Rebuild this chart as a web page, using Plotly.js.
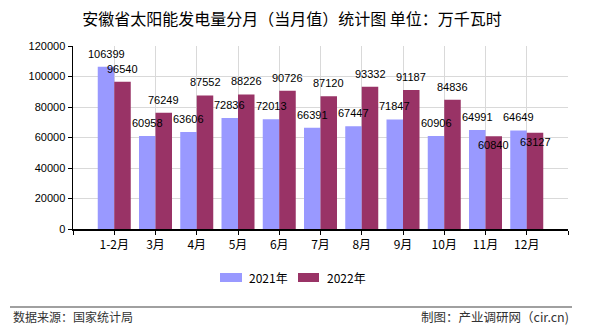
<!DOCTYPE html>
<html>
<head>
<meta charset="utf-8">
<script src="https://cdn.plot.ly/plotly-3.0.1.min.js"></script>
<style>html,body{margin:0;padding:0;background:#fff}#chart{width:590px;height:330px}</style>
</head>
<body>
<div id="chart"></div>
<script>
const categories = ["1-2月","3月","4月","5月","6月","7月","8月","9月","10月","11月","12月"];
const series2021 = [106399,60958,63606,72836,72013,66391,67447,71847,60906,64991,64649];
const series2022 = [96540,76249,87552,88226,90726,87120,93332,91187,84836,60840,63127];
const seriesNames = ["2021年","2022年"];
const seriesColors = ["#9999ff","#993366"];
const yTicks = [0,20000,40000,60000,80000,100000,120000];

const W = 590, H = 330, M = {l:73, r:22, t:46, b:101};
const plotW = W - M.l - M.r, plotH = H - M.t - M.b;
const px2x = p => (p - M.l) / plotW;
const px2y = p => (H - M.b - p) / plotH;

const xPos = categories.map((c,i)=>i+1);
const tickVals = [0].concat(xPos, [categories.length+1]);
const tickText = [""].concat(categories, [""]);
const numFont = {family:"Liberation Sans, Arial, sans-serif", size:11, color:"#000"};
const cjk = "Noto Sans CJK SC, sans-serif";
const yMax = 120000;

const allSeries = [series2021, series2022];
const traces = allSeries.map((s,k)=>({type:"bar", name:seriesNames[k], x:xPos, y:s,
  marker:{color:seriesColors[k]}, hoverinfo:"none", showlegend:false}));

// data labels; second-series label is pushed into its bar when it would collide with the first
const barHalf = 0.2;
const pxPerUnit = plotH / yMax;
const labelAnns = [];
allSeries.forEach((s, k) => {
  s.forEach((v, i) => {
    let shift = 13;
    if (k === 1 && Math.abs(series2021[i] - v) * pxPerUnit < 14) shift = -9;
    labelAnns.push({xref:"x", yref:"y", x:xPos[i] + (k === 0 ? -barHalf : barHalf), y:v,
      text:String(v), showarrow:false, xanchor:"center", yanchor:"middle", yshift:shift, font:numFont});
  });
});

// custom legend (wide swatches like the reference)
const legendItems = [{x0:220, x1:242, tx:247}, {x0:298, x1:319, tx:325}];
const legendShapes = legendItems.map((it,k)=>({type:"rect", xref:"paper", yref:"paper",
  x0:px2x(it.x0), x1:px2x(it.x1), y0:px2y(282), y1:px2y(273), fillcolor:seriesColors[k], line:{width:0}}));
const legendAnns = legendItems.map((it,k)=>({xref:"paper", yref:"paper", x:px2x(it.tx), y:px2y(277.5),
  xanchor:"left", yanchor:"middle", showarrow:false, text:seriesNames[k], font:{family:cjk, size:12, color:"#000"}}));

const layout = {
  width:W, height:H,
  margin:M,
  paper_bgcolor:"#fff", plot_bgcolor:"#fff",
  barmode:"group", bargap:0.2, bargroupgap:0,
  title:{text:"安徽省太阳能发电量分月（当月值）统计图 单位：万千瓦时", x:0.495, xanchor:"center", y:0.94, yanchor:"middle",
         font:{family:cjk, size:16, color:"#000"}},
  xaxis:{range:[0,categories.length+1], tickmode:"array", tickvals:tickVals, ticktext:tickText,
         showgrid:true, gridcolor:"#d9d9d9", gridwidth:1, zeroline:false,
         showline:true, linecolor:"#000", linewidth:1.5, ticks:"outside", ticklen:4, tickcolor:"#000",
         tickfont:{family:cjk, size:12, color:"#000"}},
  yaxis:{range:[0,yMax], tickmode:"array", tickvals:yTicks, ticktext:yTicks.map(String),
         showgrid:true, gridcolor:"#d9d9d9", gridwidth:1, zeroline:false,
         showline:true, linecolor:"#000", linewidth:1.5, ticks:"outside", ticklen:4, tickcolor:"#000",
         tickfont:numFont},
  showlegend:false,
  shapes:[{type:"line", xref:"paper", yref:"paper", x0:px2x(10), x1:px2x(572), y0:px2y(307), y1:px2y(307),
           line:{color:"#808080", width:1.5}}].concat(legendShapes),
  annotations:labelAnns.concat(legendAnns, [
    {xref:"paper", yref:"paper", x:px2x(11), y:px2y(316), xanchor:"left", yanchor:"middle", showarrow:false,
     text:"数据来源：国家统计局", font:{family:cjk, size:12, color:"#333"}},
    {xref:"paper", yref:"paper", x:px2x(571), y:px2y(316), xanchor:"right", yanchor:"middle", showarrow:false,
     text:"制图：产业调研网（cir.cn)", font:{family:cjk, size:12.5, color:"#333"}}
  ])
};
Plotly.newPlot("chart", traces, layout, {displayModeBar:false, staticPlot:true});
</script>
</body>
</html>
